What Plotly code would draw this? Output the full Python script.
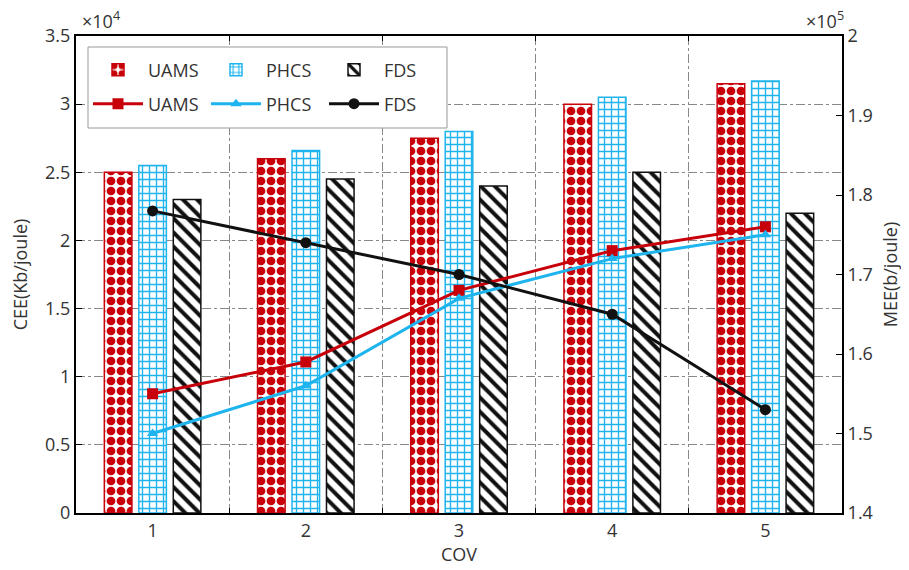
import plotly.graph_objects as go

categories = [1, 2, 3, 4, 5]
cee_uams = [2.50, 2.60, 2.75, 3.00, 3.15]
cee_phcs = [2.55, 2.66, 2.80, 3.05, 3.17]
cee_fds = [2.30, 2.45, 2.40, 2.50, 2.20]
mee_uams = [1.55, 1.59, 1.68, 1.73, 1.76]
mee_phcs = [1.50, 1.56, 1.67, 1.72, 1.75]
mee_fds = [1.78, 1.74, 1.70, 1.65, 1.53]
left_ticks = [0, 0.5, 1, 1.5, 2, 2.5, 3, 3.5]
left_ticktext = ["0", "0.5", "1", "1.5", "2", "2.5", "3", "3.5"]
right_ticks = [1.4, 1.5, 1.6, 1.7, 1.8, 1.9, 2.0]
right_ticktext = ["1.4", "1.5", "1.6", "1.7", "1.8", "1.9", "2"]
grid_x = [1.5, 2.5, 3.5, 4.5]

RED = "#C8000A"
CYAN = "#1EB4EE"
BLACK = "#111111"
FONT = "Open Sans"
TXT = "#333333"
FS = 18

fig = go.Figure()
fig.add_trace(go.Bar(
    x=categories, y=cee_uams, name="UAMS", legend="legend",
    marker=dict(color="white", line=dict(color=RED, width=1.5),
                pattern=dict(shape=".", fgcolor=RED, bgcolor="white", size=10, solidity=0.6, fillmode="replace"))))
fig.add_trace(go.Bar(
    x=categories, y=cee_phcs, name="PHCS", legend="legend",
    marker=dict(color="white", line=dict(color=CYAN, width=1.5),
                pattern=dict(shape="+", fgcolor=CYAN, bgcolor="white", size=7, solidity=0.35, fillmode="replace"))))
fig.add_trace(go.Bar(
    x=categories, y=cee_fds, name="FDS", legend="legend",
    marker=dict(color="white", line=dict(color=BLACK, width=1.5),
                pattern=dict(shape="\\", fgcolor=BLACK, bgcolor="white", size=10, solidity=0.4, fillmode="replace"))))

fig.add_trace(go.Scatter(
    x=categories, y=mee_uams, name="UAMS", yaxis="y2", legend="legend2", mode="lines+markers",
    line=dict(color=RED, width=3), marker=dict(symbol="square", size=11, color=RED)))
fig.add_trace(go.Scatter(
    x=categories, y=mee_phcs, name="PHCS", yaxis="y2", legend="legend2", mode="lines+markers",
    line=dict(color=CYAN, width=3), marker=dict(symbol="triangle-up", size=10, color=CYAN)))
fig.add_trace(go.Scatter(
    x=categories, y=mee_fds, name="FDS", yaxis="y2", legend="legend2", mode="lines+markers",
    line=dict(color=BLACK, width=3), marker=dict(symbol="circle", size=11, color=BLACK)))

# page body adds an 8px offset; plot area target (page px): x 76..842, y 36..513
OFF = 8
PL, PR, PT, PB = 76, 842, 36, 513
PW, PH = PR - PL, PB - PT

def px(xp):
    return (xp - PL) / PW

def py(yp):
    return (PB - yp) / PH

legend_common = dict(orientation="h", bgcolor="rgba(0,0,0,0)", borderwidth=0,
                     font=dict(family=FONT, size=FS, color=TXT),
                     entrywidth=53, entrywidthmode="pixels", itemwidth=50,
                     xanchor="left", yanchor="middle", tracegroupgap=0)

fig.update_layout(
    width=909 - OFF, height=570 - OFF,
    margin=dict(l=PL - OFF, r=909 - PR, t=PT - OFF, b=570 - PB),
    paper_bgcolor="white", plot_bgcolor="white",
    font=dict(family=FONT, size=FS, color=TXT),
    barmode="group", bargap=0.325, bargroupgap=0.2,
    showlegend=True,
    legend=dict(x=px(88), y=py(70), **legend_common),
    legend2=dict(x=px(88), y=py(104), **legend_common),
    xaxis=dict(range=[0.5, 5.5], tickvals=categories, ticktext=[str(c) for c in categories],
               ticks="", showgrid=False, zeroline=False, automargin=False,
               showline=True, linecolor="black", linewidth=2, mirror="ticks",
               tickfont=dict(family=FONT, size=FS, color=TXT),
               title=dict(text="COV", font=dict(family=FONT, size=FS, color=TXT), standoff=2),
               minor=dict(tickvals=grid_x, ticks="inside", ticklen=5, tickcolor="black",
                          showgrid=True, gridcolor="#888888", griddash="dashdot", gridwidth=1)),
    yaxis=dict(range=[0, 3.5], tickvals=left_ticks, ticktext=left_ticktext,
               ticks="inside", ticklen=6, tickcolor="black", automargin=False,
               showgrid=True, gridcolor="#888888", griddash="dashdot", gridwidth=1,
               zeroline=False, showline=True, linecolor="black", linewidth=2,
               tickfont=dict(family=FONT, size=FS, color=TXT),
               title=dict(text="CEE(Kb/joule)", font=dict(family=FONT, size=FS, color=TXT), standoff=14)),
    yaxis2=dict(range=[1.4, 2.0], overlaying="y", side="right", tickvals=right_ticks, ticktext=right_ticktext,
                ticks="inside", ticklen=6, tickcolor="black", showgrid=False, zeroline=False, automargin=False,
                showline=True, linecolor="black", linewidth=2,
                tickfont=dict(family=FONT, size=FS, color=TXT),
                title=dict(text="MEE(b/joule)", font=dict(family=FONT, size=FS, color=TXT), standoff=12)),
    shapes=[dict(type="rect", xref="paper", yref="paper", x0=px(88), x1=px(447), y0=py(128), y1=py(47),
                 line=dict(color="#999999", width=1), fillcolor="white", layer="above")],
    annotations=[
        dict(text="×10<sup>4</sup>", xref="paper", yref="paper", x=px(80), y=py(20),
             xanchor="left", yanchor="middle", showarrow=False, font=dict(family=FONT, size=FS, color=TXT)),
        dict(text="×10<sup>5</sup>", xref="paper", yref="paper", x=px(804), y=py(20),
             xanchor="left", yanchor="middle", showarrow=False, font=dict(family=FONT, size=FS, color=TXT)),
    ],
)

fig.write_html("out.html")
